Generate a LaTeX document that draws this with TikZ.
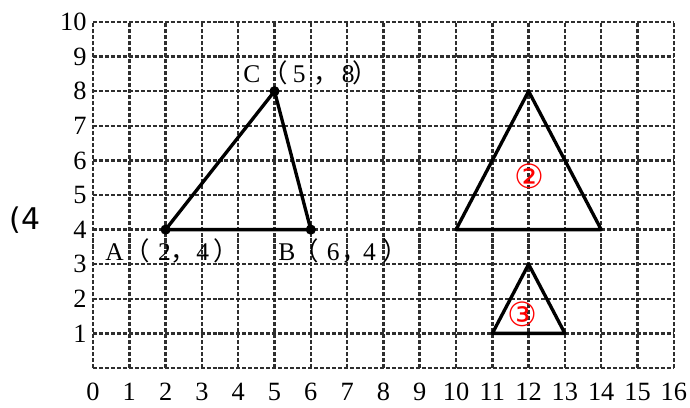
\documentclass[tikz,border=0pt]{standalone}
\usepackage{fontspec}
\setmainfont{Liberation Serif}
\newfontfamily\cjk{Noto Sans CJK SC}
\newfontfamily\dejavu{DejaVu Sans}
\newdimen\px \px=0.02cm
\begin{document}
\begin{tikzpicture}[x=0.726cm,y=0.692cm,
  gridline/.style={black!82,line width=1.4pt,dash pattern=on 2.3pt off 1.1pt},
  tri/.style={black,line width=1.9pt,line join=round},
  vdot/.style={circle,fill=black,inner sep=0pt,minimum size=5.8pt},
  axlab/.style={font=\fontsize{15pt}{16pt}\selectfont,inner sep=0pt},
  ptlab/.style={font=\fontsize{14.5pt}{15pt}\selectfont,inner sep=0pt,anchor=base west},
  circnum/.style={text=red,font=\dejavu\fontsize{19pt}{20pt}\selectfont,inner sep=0pt}]
\useasboundingbox (-2.562,-1.127) rectangle (16.446,10.636);
% grid
\foreach \i in {0,...,16} \draw[gridline] (\i,0) -- (\i,10);
\foreach \j in {0,...,10} \draw[gridline] (0,\j) -- (16,\j);
% axis labels
\foreach \i in {0,...,16} \node[axlab] (x\i) at (\i,-0.7) {\i};
\foreach \j in {1,...,10} \node[axlab,anchor=east] (y\j) at (-0.17,\j) {\j};
% triangle ABC
\coordinate (A) at (2,4);
\coordinate (B) at (6,4);
\coordinate (C) at (5,8);
\draw[tri] (A) -- (B) -- (C) -- cycle;
\node[vdot] (dA) at (A) {};
\node[vdot] (dB) at (B) {};
\node[vdot] (dC) at (C) {};
% triangle 2
\coordinate (P1) at (10,4);
\coordinate (P2) at (14,4);
\coordinate (P3) at (12,8);
\draw[tri] (P1) -- (P2) -- (P3) -- cycle;
% triangle 3
\coordinate (Q1) at (11,1);
\coordinate (Q2) at (13,1);
\coordinate (Q3) at (12,3);
\draw[tri] (Q1) -- (Q2) -- (Q3) -- cycle;
% labels
\node[ptlab] (lA) at (0.33,3.12) {A\kern1\px{\cjk （}\kern8\px 2{\cjk ，}4\kern4\px{\cjk ）}};
\node[ptlab] (lB) at (5.10,3.12) {B\kern-2\px{\cjk （}\kern8\px 6\kern2\px{\cjk ，}\kern-4\px 4\kern7\px{\cjk ）}};
\node[ptlab] (lC) at (4.13,8.24) {C\kern2\px{\cjk （}\kern5\px 5\kern8\px{\cjk ，}\kern3\px 8\kern-2\px{\cjk ）}};
\node[circnum] (n2) at (12.01,5.55) {②};
\node[circnum] (n3) at (11.82,1.56) {③};
\node[inner sep=0pt,anchor=base west,font=\dejavu\fontsize{17pt}{18pt}\selectfont] (cut) at (-2.314,4.0) {(4};
\end{tikzpicture}
\end{document}
